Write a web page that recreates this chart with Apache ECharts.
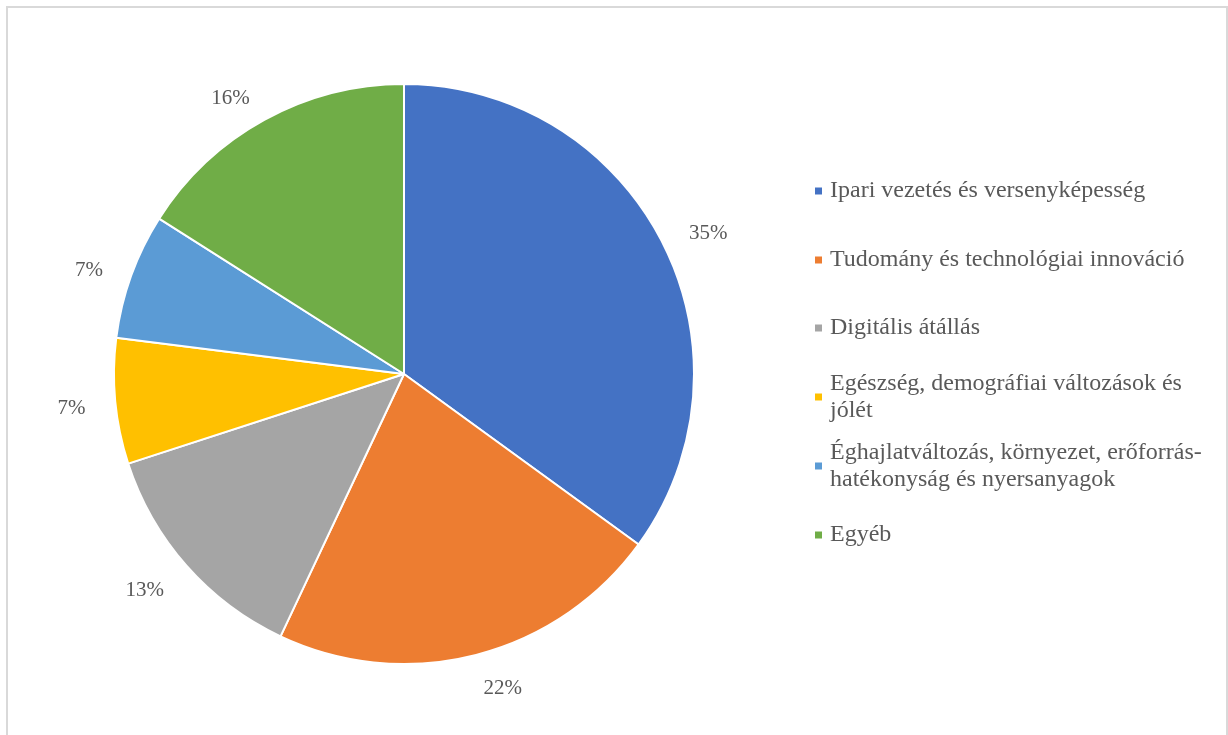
<!DOCTYPE html>
<html>
<head>
<meta charset="utf-8">
<script src="https://cdn.jsdelivr.net/npm/echarts@6/dist/echarts.min.js"></script>
<style>
  html, body { margin: 0; padding: 0; background: #fff; }
  #chart { width: 1228px; height: 735px; }
</style>
</head>
<body>
<div id="chart"></div>
<script>
// Share of funding by thematic area (%)
const categories = [
  'Ipari vezetés és versenyképesség',
  'Tudomány és technológiai innováció',
  'Digitális átállás',
  'Egészség, demográfiai változások és jólét',
  'Éghajlatváltozás, környezet, erőforrás-hatékonyság és nyersanyagok',
  'Egyéb'
];
const shares = [35, 22, 13, 7, 7, 16];
const colors = ['#4472C4', '#ED7D31', '#A5A5A5', '#FFC000', '#5B9BD5', '#70AD47'];

// Legend text, wrapped the way it is shown beside the pie
const legendText = [
  'Ipari vezetés és versenyképesség',
  'Tudomány és technológiai innováció',
  'Digitális átállás',
  'Egészség, demográfiai változások és\njólét',
  'Éghajlatváltozás, környezet, erőforrás-\nhatékonyság és nyersanyagok',
  'Egyéb'
];

const FONT = '"Liberation Serif", "Times New Roman", serif';
const TEXT = '#595959';
const LINE_H = 27;
const legendIconCenters = [191, 260, 328, 397, 466, 535];

const legends = categories.map((name, i) => {
  const twoLines = legendText[i].indexOf('\n') >= 0;
  return {
    orient: 'vertical',
    left: 815,
    top: twoLines ? legendIconCenters[i] - 40.5 : legendIconCenters[i] - LINE_H / 2,
    padding: 0,
    icon: 'rect',
    itemWidth: 7,
    itemHeight: 7,
    itemStyle: { borderWidth: 0 },
    selectedMode: false,
    data: [name],
    formatter: () => legendText[i],
    textStyle: {
      fontFamily: FONT,
      fontSize: 24,
      color: TEXT,
      lineHeight: LINE_H,
      padding: twoLines ? [LINE_H, 0, 0, 3] : [0, 0, 0, 3]
    }
  };
});

const chart = echarts.init(document.getElementById('chart'));
chart.setOption({
  animation: false,
  backgroundColor: '#fff',
  color: colors,
  graphic: [{
    type: 'rect',
    silent: true,
    shape: { x: 7, y: 7, width: 1220, height: 740 },
    style: { fill: 'none', stroke: '#d9d9d9', lineWidth: 2 }
  }],
  legend: legends,
  series: [{
    type: 'pie',
    center: [404, 374],
    radius: 290,
    startAngle: 90,
    clockwise: true,
    avoidLabelOverlap: false,
    itemStyle: { borderColor: '#fff', borderWidth: 2 },
    label: {
      show: true,
      position: 'outside',
      // a thin spacer line above the percentage sets it slightly below the anchor
      formatter: p => '{s| }\n' + p.value + '%',
      rich: { s: { fontSize: 1, lineHeight: 9 } },
      fontFamily: FONT,
      fontSize: 21,
      color: TEXT,
      distanceToLabelLine: 0
    },
    labelLine: { show: false, length: 30, length2: 0 },
    emphasis: { disabled: true },
    data: categories.map((name, i) => ({ name, value: shares[i] }))
  }]
});
</script>
</body>
</html>
